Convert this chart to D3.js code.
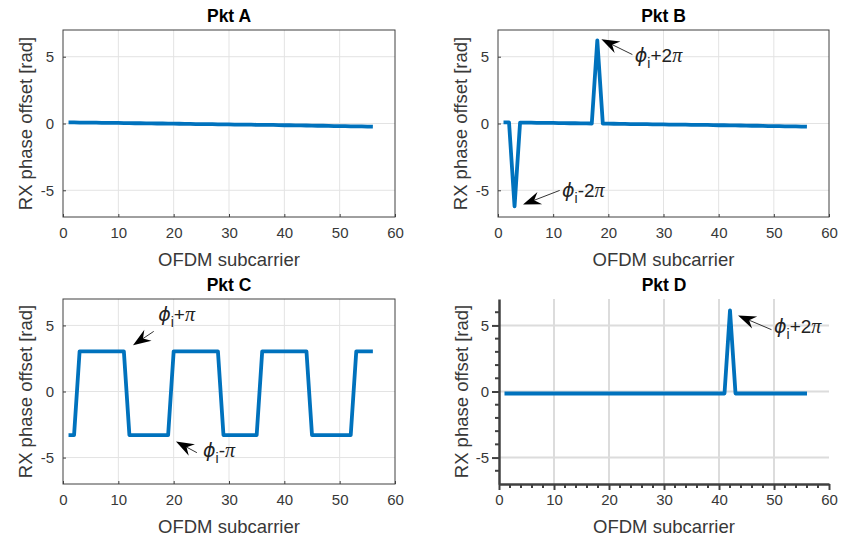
<!DOCTYPE html>
<html><head><meta charset="utf-8">
<script src="https://cdn.jsdelivr.net/npm/d3@7/dist/d3.min.js"></script>
<style>body{margin:0;background:#fff}svg{display:block}</style>
</head><body>
<svg id="chart" width="845" height="537"></svg>
<script>
// ---------------- data ----------------
const subcarriers = [1,2,3,4,5,6,7,8,9,10,11,12,13,14,15,16,17,18,19,20,21,22,23,24,25,26,27,28,29,30,31,32,33,34,35,36,37,38,39,40,41,42,43,44,45,46,47,48,49,50,51,52,53,54,55,56];
const pktA = [0.08,0.08,0.07,0.07,0.06,0.06,0.05,0.05,0.04,0.04,0.03,0.03,0.02,0.02,0.01,0.01,0.00,0.00,-0.01,-0.01,-0.02,-0.03,-0.03,-0.04,-0.04,-0.05,-0.05,-0.06,-0.06,-0.07,-0.08,-0.08,-0.09,-0.09,-0.10,-0.10,-0.11,-0.11,-0.12,-0.13,-0.13,-0.14,-0.14,-0.15,-0.16,-0.17,-0.17,-0.18,-0.19,-0.19,-0.20,-0.21,-0.22,-0.22,-0.23,-0.24];
const pktB = [0.08,0.08,-6.20,0.07,0.06,0.06,0.05,0.05,0.04,0.04,0.03,0.03,0.02,0.02,0.01,0.01,0.00,6.22,-0.01,-0.01,-0.02,-0.03,-0.03,-0.04,-0.04,-0.05,-0.05,-0.06,-0.06,-0.07,-0.08,-0.08,-0.09,-0.09,-0.10,-0.10,-0.11,-0.11,-0.12,-0.13,-0.13,-0.14,-0.14,-0.15,-0.16,-0.17,-0.17,-0.18,-0.19,-0.19,-0.20,-0.21,-0.22,-0.22,-0.23,-0.24];
const pktC = [-3.30,-3.30,3.03,3.03,3.03,3.03,3.03,3.03,3.03,3.03,3.03,-3.30,-3.30,-3.30,-3.30,-3.30,-3.30,-3.30,-3.30,3.03,3.03,3.03,3.03,3.03,3.03,3.03,3.03,3.03,-3.30,-3.30,-3.30,-3.30,-3.30,-3.30,-3.30,3.03,3.03,3.03,3.03,3.03,3.03,3.03,3.03,3.03,-3.30,-3.30,-3.30,-3.30,-3.30,-3.30,-3.30,-3.30,3.03,3.03,3.03,3.03];
const pktD = [-0.15,-0.15,-0.15,-0.15,-0.15,-0.15,-0.15,-0.15,-0.15,-0.15,-0.15,-0.15,-0.15,-0.15,-0.15,-0.15,-0.15,-0.15,-0.15,-0.15,-0.15,-0.15,-0.15,-0.15,-0.15,-0.15,-0.15,-0.15,-0.15,-0.15,-0.15,-0.15,-0.15,-0.15,-0.15,-0.15,-0.15,-0.15,-0.15,-0.15,-0.15,6.13,-0.15,-0.15,-0.15,-0.15,-0.15,-0.15,-0.15,-0.15,-0.15,-0.15,-0.15,-0.15,-0.15,-0.15];
const xTicks = [0,10,20,30,40,50,60];
const yTicks = [-5,0,5];
const xMinorTicks = [2,4,6,8,12,14,16,18,22,24,26,28,32,34,36,38,42,44,46,48,52,54,56,58];
const yMinorTicks = [-6,-4,-3,-2,-1,1,2,3,4,6];
const xDomain = [0,60];
const yDomain = [-7,7];
const titles = ["Pkt A","Pkt B","Pkt C","Pkt D"];
const xLabel = "OFDM subcarrier";
const yLabel = "RX phase offset [rad]";
// annotations: tip / tail / text anchor in data units, label suffix after "ϕ_i"
const annB = [
  {tip:[18.74,6.30], tail:[24.36,5.16], text:[24.8,4.6], op:"+2", pi:"π"},
  {tip:[4.53,-6.07], tail:[11.18,-5.01], text:[11.6,-5.5], op:"-2", pi:"π"}
];
const annC = [
  {tip:[12.65,3.50], tail:[16.4,4.55], text:[17.2,5.3], op:"+", pi:"π"},
  {tip:[20.42,-3.78], tail:[24.2,-4.63], text:[25.3,-4.95], op:"-", pi:"π"}
];
const annD = [
  {tip:[43.47,5.75], tail:[49.54,4.68], text:[50.0,4.45], op:"+2", pi:"π"}
];

// ---------------- layout ----------------
const panels = [
  {title:titles[0], values:pktA, ann:[],   box:{l:63, r:395, t:30,  b:217}, style:"box"},
  {title:titles[1], values:pktB, ann:annB, box:{l:498,r:829, t:30,  b:217}, style:"box"},
  {title:titles[2], values:pktC, ann:annC, box:{l:63, r:395, t:299, b:484}, style:"box"},
  {title:titles[3], values:pktD, ann:annD, box:{l:499,r:829, t:299, b:484}, style:"open"}
];

const svg = d3.select("#chart");
const FONT = "'Liberation Sans', Arial, Helvetica, sans-serif";
const TXT = "#383838";
const LINE = "#0072BD";

panels.forEach(p => {
  const {l,r,t,b} = p.box;
  const x = d3.scaleLinear().domain(xDomain).range([l,r]);
  const y = d3.scaleLinear().domain(yDomain).range([b,t]);
  const g = svg.append("g");
  const open = p.style === "open";

  // grid
  g.append("g").selectAll("line").data(xTicks.filter(v=>v>xDomain[0]&&v<xDomain[1])).join("line")
    .attr("x1",d=>x(d)).attr("x2",d=>x(d)).attr("y1",t).attr("y2",b)
    .attr("stroke", open ? "#dcdcdc" : "#e3e3e3").attr("stroke-width", open ? 2 : 1);
  g.append("g").selectAll("line").data(yTicks).join("line")
    .attr("x1",l).attr("x2",r).attr("y1",d=>y(d)).attr("y2",d=>y(d))
    .attr("stroke", open ? "#dcdcdc" : "#e3e3e3").attr("stroke-width", open ? 2 : 1);

  if (!open) {
    const xa = d3.axisBottom(x).tickValues(xTicks).tickSizeInner(-3).tickSizeOuter(0).tickPadding(10);
    const ya = d3.axisLeft(y).tickValues(yTicks).tickSizeInner(-3).tickSizeOuter(0).tickPadding(9);
    const gx = g.append("g").attr("transform",`translate(0,${b})`).call(xa);
    const gy = g.append("g").attr("transform",`translate(${l},0)`).call(ya);
    [gx,gy].forEach(a => {
      a.select(".domain").remove();
      a.selectAll(".tick line").attr("stroke","#404040");
      a.selectAll("text").attr("fill",TXT).style("font-family",FONT).style("font-size","15px");
    });
    gy.selectAll("text").text(d=>d<0?"-"+Math.abs(d):d);
    g.append("rect").attr("x",l).attr("y",t).attr("width",r-l).attr("height",b-t)
      .attr("fill","none").attr("stroke","#404040").attr("stroke-width",1);
  } else {
    g.append("g").selectAll("line").data(xMinorTicks).join("line")
      .attr("x1",d=>x(d)).attr("x2",d=>x(d)).attr("y1",b).attr("y2",b+4)
      .attr("stroke","#404040").attr("stroke-width",2);
    g.append("g").selectAll("line").data(yMinorTicks).join("line")
      .attr("x1",l).attr("x2",l-4).attr("y1",d=>y(d)).attr("y2",d=>y(d))
      .attr("stroke","#404040").attr("stroke-width",2);
    const xa = d3.axisBottom(x).tickValues(xTicks).tickSizeInner(6).tickSizeOuter(0).tickPadding(4);
    const ya = d3.axisLeft(y).tickValues(yTicks).tickSizeInner(7).tickSizeOuter(0).tickPadding(3);
    const gx = g.append("g").attr("transform",`translate(0,${b})`).call(xa);
    const gy = g.append("g").attr("transform",`translate(${l},0)`).call(ya);
    [gx,gy].forEach(a => {
      a.select(".domain").attr("stroke","#404040").attr("stroke-width",2.5);
      a.selectAll(".tick line").attr("stroke","#404040").attr("stroke-width",2);
      a.selectAll("text").attr("fill",TXT).style("font-family",FONT).style("font-size","15px");
    });
    gy.selectAll("text").text(d=>d<0?"-"+Math.abs(d):d);
  }

  // data line
  const line = d3.line().x((d,i)=>x(subcarriers[i])).y(d=>y(d));
  g.append("path").datum(p.values).attr("d",line)
    .attr("fill","none").attr("stroke",LINE).attr("stroke-width",3.8)
    .attr("stroke-linejoin","round").attr("stroke-linecap","butt");

  // title
  g.append("text").attr("x",(l+r)/2).attr("y",t-8).attr("text-anchor","middle")
    .style("font-family",FONT).style("font-weight","bold").style("font-size","17.5px")
    .attr("fill","#000").text(p.title);
  // x label
  g.append("text").attr("x",(l+r)/2).attr("y",b+49).attr("text-anchor","middle")
    .style("font-family",FONT).style("font-size","18.5px").attr("fill",TXT).text(xLabel);
  // y label
  g.append("text").attr("transform",`translate(${l-31},${(t+b)/2}) rotate(-90)`)
    .attr("text-anchor","middle")
    .style("font-family",FONT).style("font-size","18.5px").attr("fill",TXT).text(yLabel);

  // annotations
  p.ann.forEach(a => {
    const tip = [x(a.tip[0]), y(a.tip[1])];
    const tail = [x(a.tail[0]), y(a.tail[1])];
    const ang = Math.atan2(tip[1]-tail[1], tip[0]-tail[0]);
    const L = 18, W = 13, N = 12;
    const rot = ([px,py]) => [tip[0] + px*Math.cos(ang) - py*Math.sin(ang), tip[1] + px*Math.sin(ang) + py*Math.cos(ang)];
    const notch = rot([-N,0]);
    g.append("line").attr("x1",tail[0]).attr("y1",tail[1]).attr("x2",notch[0]).attr("y2",notch[1])
      .attr("stroke","#000").attr("stroke-width",0.8);
    const pts = [rot([0,0]), rot([-L,-W/2]), notch, rot([-L,W/2])];
    g.append("path").attr("d","M"+pts.map(q=>q.join(",")).join("L")+"Z").attr("fill","#000");
    const tx = g.append("text").attr("x",x(a.text[0])).attr("y",y(a.text[1]))
      .style("font-family",FONT).style("font-size","19px").attr("fill","#222");
    tx.append("tspan").style("font-family","'DejaVu Sans', sans-serif").style("font-style","italic").style("font-size","19px").text("ϕ");
    tx.append("tspan").attr("dy",6).style("font-size","14px").text("i");
    tx.append("tspan").attr("dy",-6).text(a.op);
    tx.append("tspan").style("font-family","'Liberation Serif', serif").style("font-style","italic").style("font-size","20px").text(a.pi);
  });
});
</script>
</body></html>
